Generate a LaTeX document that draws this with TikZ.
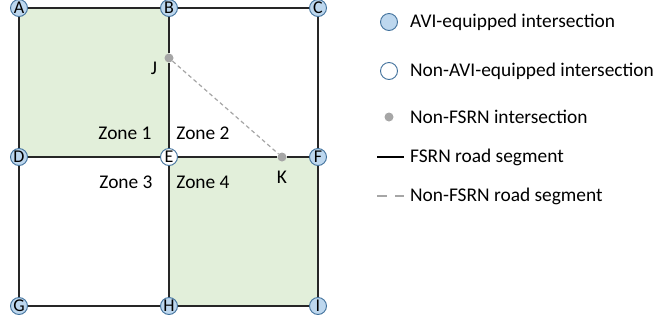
\documentclass[tikz,border=0pt]{standalone}
\usepackage{fontspec}
\setmainfont{Carlito}
\usetikzlibrary{backgrounds}
\definecolor{avifill}{HTML}{BDD7EE}
\definecolor{aviedge}{HTML}{41719C}
\definecolor{zonefill}{HTML}{E2EFDA}
\definecolor{minorgray}{HTML}{A6A6A6}
\tikzset{
  avi/.style={circle, draw=aviedge, fill=avifill, line width=0.9pt, minimum size=17pt, inner sep=0pt, font=\fontsize{18}{18}\selectfont},
  nonavi/.style={avi, fill=white},
  minor/.style={circle, fill=minorgray, minimum size=9pt, inner sep=0pt},
  fsrn/.style={draw=black!85, line width=1.4pt},
  nonfsrn/.style={draw=minorgray, line width=1.2pt, dash pattern=on 4pt off 3pt},
  lbl/.style={font=\fontsize{19.4}{19.4}\selectfont},
  key/.style={lbl, anchor=west, inner sep=0pt},
}
\begin{document}
\begin{tikzpicture}[x=1pt, y=-1pt]
\useasboundingbox (0,0) rectangle (656,325);
% intersections
\node[avi] (A) at (19,8) {A};
\node[avi] (B) at (169,8) {B};
\node[avi] (C) at (318,8) {C};
\node[avi] (D) at (19,157) {D};
\node[nonavi] (E) at (169,157) {E};
\node[avi] (F) at (318,157) {F};
\node[avi] (G) at (19,306) {G};
\node[avi] (H) at (169,306) {H};
\node[avi] (I) at (318,306) {I};
\node[minor] (J) at (169,58) {};
\node[minor] (K) at (282,157) {};
% zones
\begin{scope}[on background layer]
\fill[zonefill] (A.center) rectangle (E.center);
\fill[zonefill] (E.center) rectangle (I.center);
\draw[fsrn] (A) -- (B) -- (C);
\draw[fsrn] (D) -- (E) -- (K) -- (F);
\draw[fsrn] (G) -- (H) -- (I);
\draw[fsrn] (A) -- (D) -- (G);
\draw[fsrn] (B) -- (J) -- (E) -- (H);
\draw[fsrn] (C) -- (F) -- (I);
\draw[nonfsrn] (J) -- (K);
\end{scope}
\node[lbl] (jlbl) at (154,68) {J};
\node[lbl] (klbl) at (282,177) {K};
\node[lbl] (z1) at (125,133) {Zone 1};
\node[lbl] (z2) at (203,133) {Zone 2};
\node[lbl] (z3) at (126,182) {Zone 3};
\node[lbl] (z4) at (203,182) {Zone 4};
% legend
\node[avi] (k1) at (389,22) {};
\node[nonavi] (k2) at (389,71) {};
\node[minor] (k3) at (389,117) {};
\coordinate (k4a) at (377,157);
\coordinate (k4b) at (404,157);
\coordinate (k5a) at (377,196);
\coordinate (k5b) at (404,196);
\draw[fsrn, draw=black] (k4a) -- (k4b);
\draw[draw=minorgray, line width=1.4pt, dash pattern=on 10pt off 8pt] (k5a) -- (k5b);
\node[key] (t1) at (410,22) {AVI-equipped intersection};
\node[key] (t2) at (410,71) {Non-AVI-equipped intersection};
\node[key] (t3) at (410,117) {Non-FSRN intersection};
\node[key] (t4) at (410,157) {FSRN road segment};
\node[key] (t5) at (410,196) {Non-FSRN road segment};
\end{tikzpicture}
\end{document}
